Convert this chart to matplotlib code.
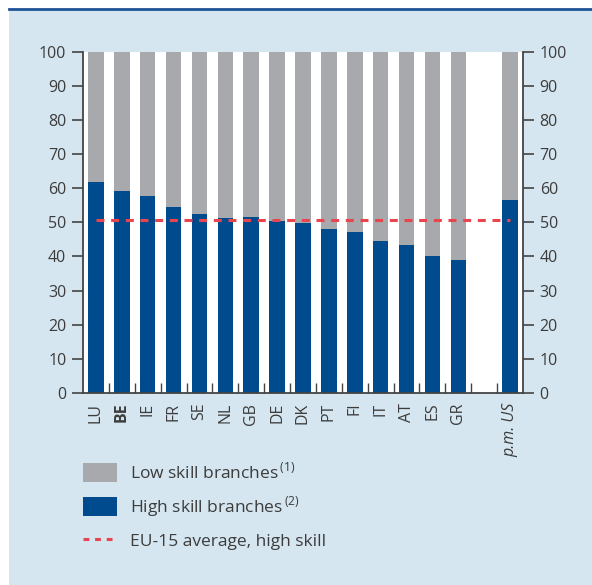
import matplotlib
matplotlib.use("Agg")
import matplotlib.pyplot as plt
from matplotlib.patches import Patch, Rectangle
from matplotlib.lines import Line2D

plt.rcParams['font.family'] = ['Open Sans', 'DejaVu Sans']
plt.rcParams['mathtext.fontset'] = 'custom'
plt.rcParams['mathtext.rm'] = 'Open Sans'

# data (share of high skill branches, %)
countries = ['LU', 'BE', 'IE', 'FR', 'SE', 'NL', 'GB', 'DE', 'DK', 'PT', 'FI', 'IT', 'AT', 'ES', 'GR']
high_skill = [61.9, 59.2, 57.6, 54.5, 52.5, 51.3, 51.4, 50.4, 49.9, 48.1, 47.2, 44.6, 43.4, 40.2, 39.0]
us_label = 'p.m. US'
us_high = 56.6
eu15_avg = 50.6

BLUE = '#004b8d'
GREY = '#a8a9ad'
RED = '#e8454e'
BG = '#d5e6f0'
TXT = '#3c3c3c'

fig = plt.figure(figsize=(5.92, 5.85), dpi=100)
fig.patch.set_facecolor('white')
fig.patches.append(Rectangle((9 / 592, 0), 1, 576 / 585, transform=fig.transFigure,
                             facecolor=BG, edgecolor='none', zorder=-10))
fig.add_artist(Line2D([9 / 592, 1], [576 / 585, 576 / 585], transform=fig.transFigure,
                      color='#1f5396', lw=2))

ax = fig.add_axes([83 / 592, 192 / 585, 440 / 592, 341.5 / 585])
ax.set_facecolor('white')

pos = list(range(len(countries))) + [len(countries) + 1]
highs = high_skill + [us_high]
lows = [100 - h for h in highs]
labels = countries + [us_label]

ax.bar(pos, highs, width=0.6, color=BLUE, zorder=2)
ax.bar(pos, lows, width=0.6, bottom=highs, color=GREY, zorder=2)
ax.plot([pos[0], pos[-1]], [eu15_avg, eu15_avg], color=RED, lw=2.2,
        dashes=(2.6, 2.2), zorder=3)

ax.set_xlim(-0.5, pos[-1] + 0.5)
ax.set_ylim(0, 100)
ax.set_yticks(range(0, 101, 10))
ax.tick_params(axis='y', direction='out', length=8, width=1.2, color='#444444',
               labelsize=11.5, labelcolor=TXT, right=True, labelright=True, pad=4)

ax.set_xticks(pos)
ax.set_xticklabels(labels, rotation=90)
ax.set_xticks([p + 0.5 for p in range(pos[-1])], minor=True)
ax.tick_params(axis='x', which='major', length=0, labelsize=11.5, labelcolor=TXT, pad=7)
ax.tick_params(axis='x', which='minor', direction='in', length=7, width=1, color='#444444')
xl = ax.get_xticklabels()
xl[1].set_fontweight('bold')
xl[-1].set_fontstyle('italic')

for side in ['left', 'right', 'bottom']:
    ax.spines[side].set_color('#444444')
    ax.spines[side].set_linewidth(1.3)
ax.spines['top'].set_visible(False)

handles = [Patch(facecolor=GREY, edgecolor='none'),
           Patch(facecolor=BLUE, edgecolor='none'),
           Line2D([0], [0], color=RED, lw=2.2, dashes=(1.9, 1.9))]
names = [r'Low skill branches$^{\,(1)}$', r'High skill branches$^{\,(2)}$',
         'EU-15 average, high skill']
fs = 12.5
em = fs * 100 / 72
pad_px = 0.4 * em
leg = fig.legend(handles, names, loc='upper left',
                 bbox_to_anchor=((83 - pad_px) / 592, 1 - (462 - pad_px) / 585),
                 frameon=False, fontsize=fs, handlelength=34 / em, handleheight=23 / em,
                 handletextpad=13 / em, labelspacing=0.68, labelcolor=TXT,
                 borderpad=0.4, borderaxespad=0)

fig.savefig('out.png', dpi=100, facecolor=fig.get_facecolor())
